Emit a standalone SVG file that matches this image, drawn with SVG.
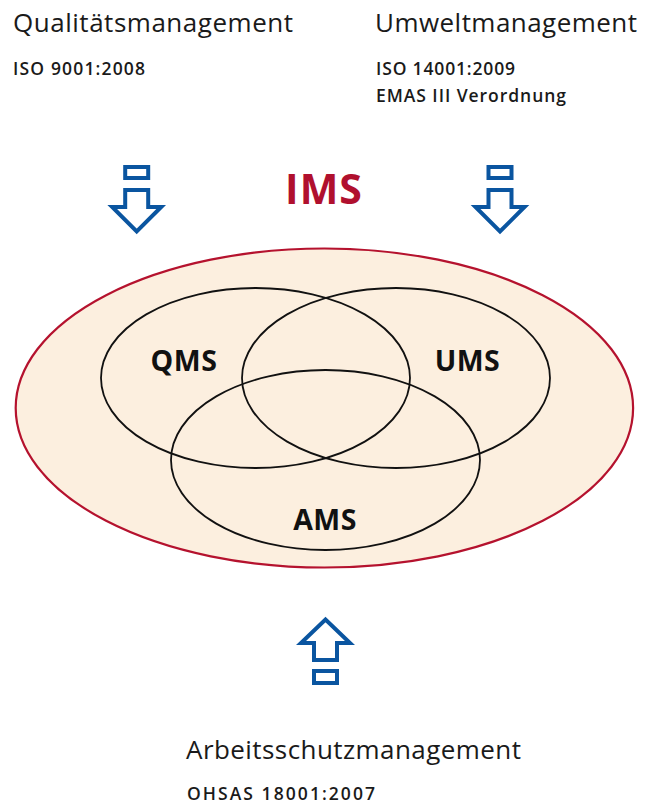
<svg xmlns="http://www.w3.org/2000/svg" width="657" height="807" viewBox="0 0 657 807">
  <defs>
    <style>
      .head { font-family: "Open Sans", "Liberation Sans", sans-serif; font-size: 26px; font-weight: 500; fill: #1a1a1a; }
      .norm { font-family: "Open Sans", "Liberation Sans", sans-serif; font-size: 17.5px; font-weight: 600; fill: #1a1a1a; }
      .lbl { font-family: "Open Sans", "Liberation Sans", sans-serif; font-size: 28.5px; font-weight: 700; fill: #111; text-anchor: middle; letter-spacing: 0.5px; }
      .ims { font-family: "Open Sans", "Liberation Sans", sans-serif; font-size: 41px; font-weight: 700; fill: #b0102e; text-anchor: middle; letter-spacing: 1px; }
      .set { fill: none; stroke: #111; stroke-width: 1.8; }
      .arrow { fill: #fff; stroke: #0a55a0; stroke-width: 4; stroke-linejoin: miter; }
    </style>
    <!-- down-pointing hollow arrow, centred on x = 0 -->
    <g id="arrowDown">
      <rect class="arrow" x="-11.5" y="167" width="23" height="11"/>
      <polygon class="arrow" points="-11.5,190 11.5,190 11.5,207 24.5,207 0,231.5 -24.5,207 -11.5,207"/>
    </g>
  </defs>

  <!-- source standards -->
  <g id="qualitaet">
    <text class="head" x="13" y="32" textLength="280">Qualitätsmanagement</text>
    <text class="norm" x="13" y="75" textLength="132">ISO 9001:2008</text>
  </g>
  <g id="umwelt">
    <text class="head" x="375" y="32" textLength="262">Umweltmanagement</text>
    <text class="norm" x="376" y="75" textLength="139">ISO 14001:2009</text>
    <text class="norm" x="376" y="102" textLength="190">EMAS III Verordnung</text>
  </g>
  <g id="arbeitsschutz">
    <text class="head" x="186" y="759" textLength="335">Arbeitsschutzmanagement</text>
    <text class="norm" x="187" y="800" textLength="188">OHSAS 18001:2007</text>
  </g>

  <!-- integrated system -->
  <g id="ims">
    <ellipse cx="324.4" cy="408" rx="308.7" ry="159.5" fill="#fcefdf" stroke="#b5122e" stroke-width="2.2"/>
    <text class="ims" x="324" y="204">IMS</text>
  </g>
  <g id="qms">
    <ellipse class="set" cx="255.5" cy="378" rx="154.5" ry="90"/>
    <text class="lbl" x="184" y="371">QMS</text>
  </g>
  <g id="ums">
    <ellipse class="set" cx="396" cy="378" rx="154" ry="90"/>
    <text class="lbl" x="467.5" y="371">UMS</text>
  </g>
  <g id="ams">
    <ellipse class="set" cx="325.5" cy="460" rx="154.5" ry="90"/>
    <text class="lbl" x="325" y="530">AMS</text>
  </g>

  <!-- inflow arrows -->
  <g id="connectors">
    <use href="#arrowDown" transform="translate(136.7,0)"/>
    <use href="#arrowDown" transform="translate(500,0)"/>
    <g transform="translate(325.5,0)">
      <rect class="arrow" x="-11.5" y="671" width="23" height="12"/>
      <polygon class="arrow" points="-11.5,660 11.5,660 11.5,643 24.5,643 0,619.5 -24.5,643 -11.5,643"/>
    </g>
  </g>
</svg>
